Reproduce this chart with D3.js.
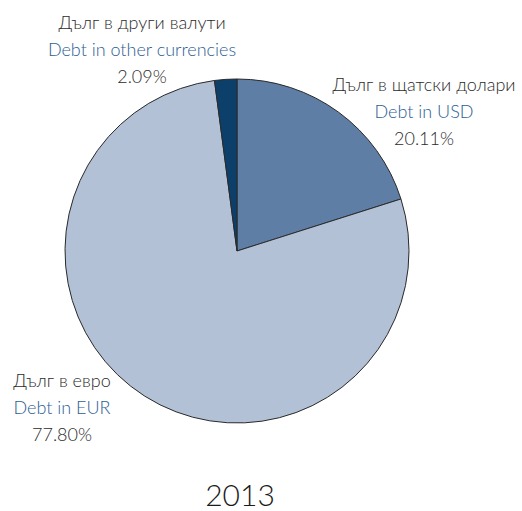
<!DOCTYPE html>
<html>
<head>
<meta charset="utf-8">
<script src="https://cdn.jsdelivr.net/npm/d3@7"></script>
<style>
  body { margin: 0; background: #fff; }
  text { font-family: Lato, "Open Sans", sans-serif; font-weight: 300; }
</style>
</head>
<body>
<div id="chart"></div>
<script>
(() => {
  const width = 522;
  const height = 511;
  const center = { x: 237, y: 251 };
  const radius = 172;

  // data
  const labelsBg = ["Дълг в щатски долари", "Дълг в евро", "Дълг в други валути"];
  const labelsEn = ["Debt in USD", "Debt in EUR", "Debt in other currencies"];
  const shares = [20.11, 77.80, 2.09];
  const year = "2013";

  const colors = ["#5f7ea6", "#b3c1d7", "#0d3f6b"];
  // label anchors (centre of the text block, first line baseline)
  const labelPos = [
    { x: 424, y: 91 },
    { x: 62, y: 387 },
    { x: 142, y: 29 },
  ];

  const data = shares.map((v, i) => ({
    bg: labelsBg[i],
    en: labelsEn[i],
    value: v,
    color: colors[i],
    pos: labelPos[i],
  }));

  const svg = d3
    .select("#chart")
    .append("svg")
    .attr("width", width)
    .attr("height", height);

  const pie = d3.pie().sort(null).value((d) => d.value);
  const arc = d3.arc().innerRadius(0).outerRadius(radius);

  const g = svg
    .append("g")
    .attr("transform", `translate(${center.x}, ${center.y})`);

  g.selectAll("path")
    .data(pie(data))
    .join("path")
    .attr("d", arc)
    .attr("fill", (d) => d.data.color)
    .attr("stroke", "#2a2a2a")
    .attr("stroke-width", 1)
    .attr("stroke-linejoin", "round");

  // labels
  const labels = svg
    .selectAll(".label")
    .data(data)
    .join("text")
    .attr("class", "label")
    .attr("text-anchor", "middle")
    .style("font-size", "18px");

  labels
    .append("tspan")
    .attr("x", (d) => d.pos.x)
    .attr("y", (d) => d.pos.y)
    .attr("fill", "#2b2b2b")
    .text((d) => d.bg);
  labels
    .append("tspan")
    .attr("x", (d) => d.pos.x)
    .attr("y", (d) => d.pos.y + 27)
    .attr("fill", "#2c5e93")
    .text((d) => d.en);
  labels
    .append("tspan")
    .attr("x", (d) => d.pos.x)
    .attr("y", (d) => d.pos.y + 54)
    .attr("fill", "#2b2b2b")
    .text((d) => d3.format(".2f")(d.value) + "%");

  // Year
  svg
    .append("text")
    .attr("x", 240)
    .attr("y", 506)
    .attr("text-anchor", "middle")
    .attr("fill", "#1a1a1a")
    .style("font-size", "30px")
    .text(year);
})();
</script>
</body>
</html>
